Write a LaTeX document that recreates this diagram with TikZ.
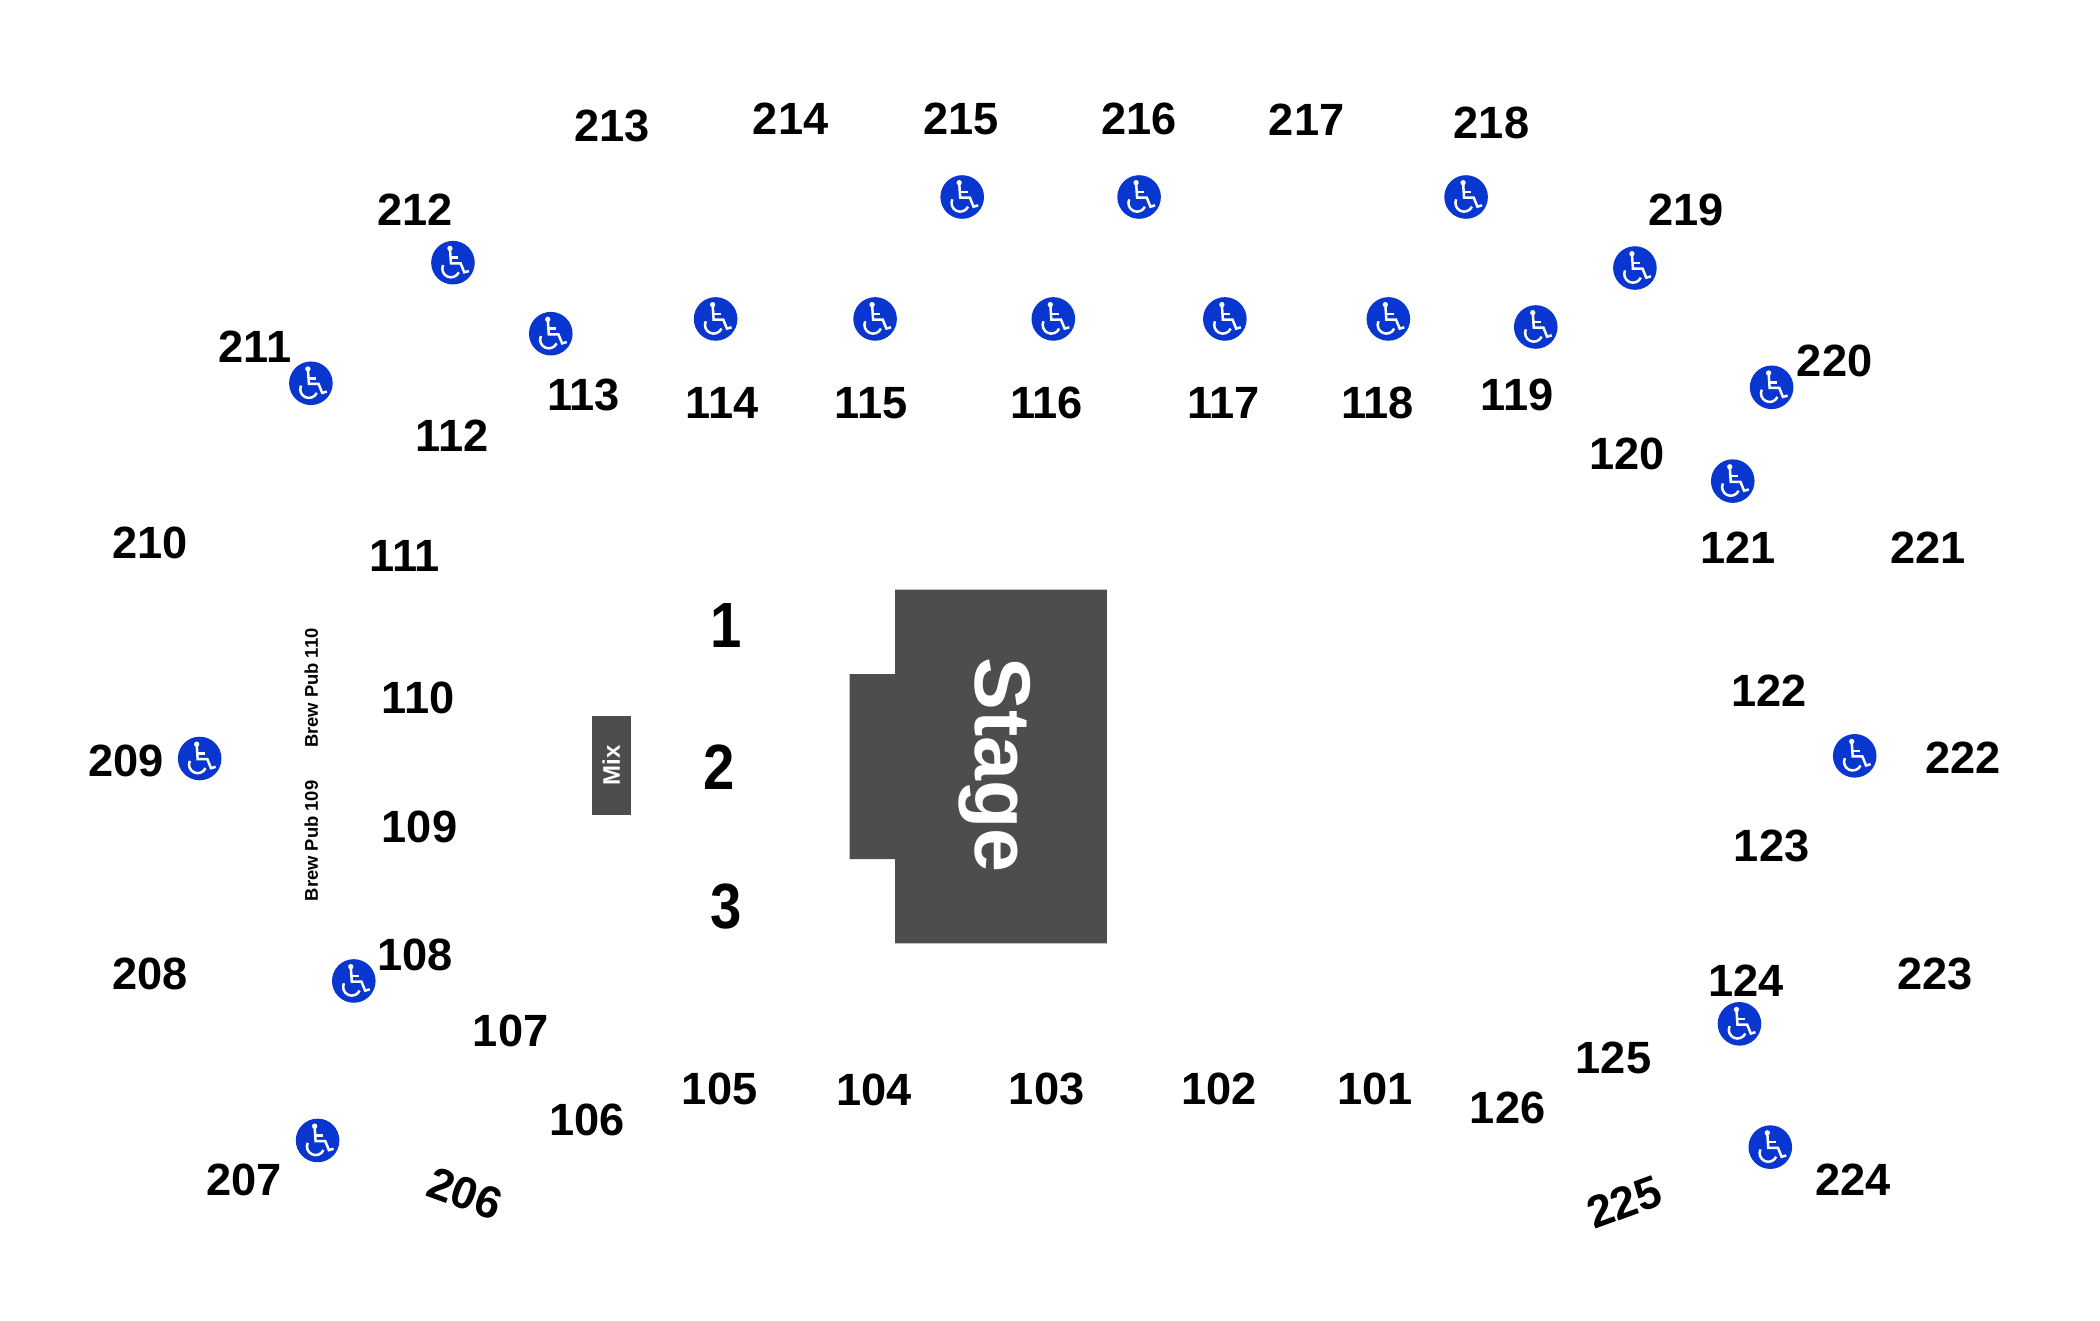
\documentclass[tikz,border=0pt]{standalone}
\usepackage{fontspec}
\setmainfont{Liberation Sans}
\definecolor{wcblue}{HTML}{0836CE}
\definecolor{stagegrey}{HTML}{4D4D4D}
\tikzset{
  seclabel/.style={font=\fontsize{22.6}{23}\selectfont\bfseries,text=black,inner sep=0pt,anchor=center},
  rowlabel/.style={font=\fontsize{32}{32}\selectfont\bfseries,text=black,inner sep=0pt,anchor=center,xscale=.88},
  publabel/.style={font=\fontsize{9.2}{10}\selectfont\bfseries,text=black,inner sep=0pt,anchor=center,rotate=90},
  wcdisc/.style={circle,fill=wcblue,draw=none,minimum size=21.8pt,inner sep=0pt},
  wc/.pic={
    \begin{scope}[x=.1666pt,y=-.1666pt,white,line width=1.25pt]
      \fill (-9,-43) circle[radius=8];
      \draw (-9,-43) -- (-6,2) -- (23,2) -- (34,29) -- (48,25);
      \draw (-6,-15) -- (16,-15);
      \draw (-6,18) ++(205:26) arc[start angle=205,end angle=25,radius=26];
    \end{scope}
  }
}
\newcommand{\wcicon}[3]{\node[wcdisc] (#1) at (#2,#3) {}; \pic at (#1.center) {wc};}
\begin{document}
\begin{tikzpicture}[x=.67005pt,y=-.67005pt]
\path[use as bounding box,fill=white] (0,0) rectangle (1567.05,985);
% stage
\fill[stagegrey] (668,440) -- (826,440) -- (826,704) -- (668,704) -- (668,641) -- (634,641) -- (634,503) -- (668,503) -- cycle;
\node[rotate=-90,text=white,inner sep=0pt,font=\fontsize{39.5}{40}\selectfont\bfseries] (stage) at (742,571) {Stage};
\fill[stagegrey] (442,534) rectangle (471,608);
\node[rotate=90,text=white,inner sep=0pt,font=\fontsize{12}{12}\selectfont\bfseries] (mix) at (456,571) {Mix};
\node[publabel] (pub110) at (232.3,513.5) {Brew Pub 110};
\node[publabel] (pub109) at (232.3,627.5) {Brew Pub 109};
% rows
\node[rowlabel] (r1) at (541.5,467) {1};
\node[rowlabel] (r2) at (536.5,572.5) {2};
\node[rowlabel] (r3) at (541.5,676.5) {3};
% section labels
\foreach \t/\x/\y in {213/457/94,214/590/88.5,215/717/89,216/850/89,217/975/89,218/1113/92,212/310/156.5,219/1258/157,211/190.5/258.5,220/1369/269.5,113/435.5/295,114/539/301,115/650/301,116/781/301,117/913/301,118/1028/301,119/1132/295,112/337.5/325.5,120/1214/339,210/112/405.5,111/302/415,121/1297/409,221/1439/409,110/312/521,122/1320/515.5,209/94/568,222/1465/565.5,109/313/617,123/1322/631.5,108/310/712.5,208/112/727,223/1444/727,124/1303/732,107/381/769.5,125/1204/789.5,105/537/812.5,104/652/813,103/781/812.5,102/909.5/812.5,101/1026/812.5,126/1125/827,106/438/836,207/182/880.5,224/1383/880.5}
  \node[seclabel] (s\t) at (\x,\y) {\t};
\node[seclabel,rotate=-20] (s206) at (347,890.5) {206};
\node[seclabel,rotate=20] (s225) at (1212,897) {225};
% wheelchair icons
\wcicon{w1}{718}{147}
\wcicon{w2}{850}{147}
\wcicon{w3}{1094}{147}
\wcicon{w4}{338}{196}
\wcicon{w5}{1220}{200}
\wcicon{w6}{411}{249}
\wcicon{w7}{534}{238}
\wcicon{w8}{653}{238}
\wcicon{w9}{786}{238}
\wcicon{w10}{914}{238}
\wcicon{w11}{1036}{238}
\wcicon{w12}{1146}{244}
\wcicon{w13}{232}{286}
\wcicon{w14}{1322}{289}
\wcicon{w15}{1293}{359}
\wcicon{w16}{149}{566}
\wcicon{w17}{1384}{564}
\wcicon{w18}{264}{732}
\wcicon{w19}{1298}{764}
\wcicon{w20}{237}{851}
\wcicon{w21}{1321}{856}
\end{tikzpicture}
\end{document}
